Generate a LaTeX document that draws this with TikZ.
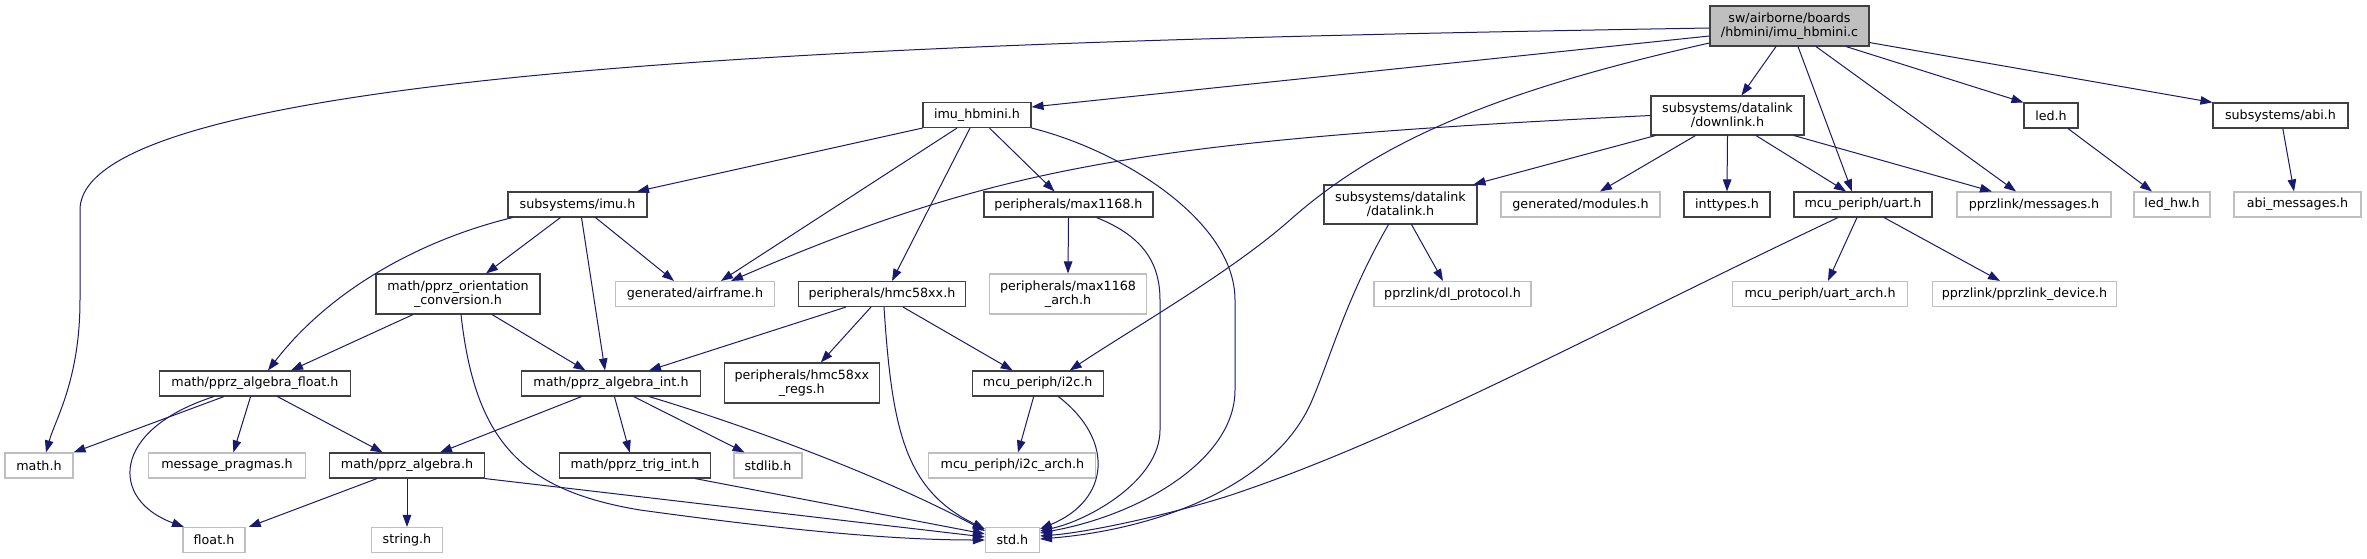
\documentclass[tikz,border=0pt]{standalone}
\usepackage{fontspec}
\setmainfont{DejaVu Sans}
\usetikzlibrary{arrows.meta,calc}
\definecolor{edgeblue}{HTML}{191970}
\definecolor{greyb}{HTML}{BFBFBF}
\definecolor{boxblack}{HTML}{404040}
\tikzset{
  nb/.style={draw=boxblack, line width=1.1pt, fill=white, inner sep=0pt, align=center,
    minimum height=25pt, font=\fontsize{12.7}{14.5}\selectfont},
  ng/.style={nb, draw=greyb},
  e/.style={draw=edgeblue, line width=1pt, -{Triangle[length=12pt,width=8.5pt]}},
}
\begin{document}
\begin{tikzpicture}[x=1pt,y=-1pt]
\useasboundingbox[fill=white] (0,0) rectangle (2367,559);
% row 0
\node[nb, fill=greyb, minimum width=159pt, minimum height=40pt] (root) at (1789.5,26) {sw/airborne/boards\\/hbmini/imu\_hbmini.c};
% row 1
\node[nb, minimum width=108pt] (imuh) at (977,115) {imu\_hbmini.h};
\node[nb, minimum width=153pt, minimum height=39pt] (downlink) at (1727.5,115.5) {subsystems/datalink\\/downlink.h};
\node[nb, minimum width=54pt] (led) at (2051,115.5) {led.h};
\node[nb, minimum width=135pt] (abi) at (2280.5,115.5) {subsystems/abi.h};
% row 2
\node[nb, minimum width=139pt] (imu) at (577.5,204.5) {subsystems/imu.h};
\node[nb, minimum width=169pt] (max) at (1068.5,204.5) {peripherals/max1168.h};
\node[nb, minimum width=153pt, minimum height=39pt] (datalink) at (1400.5,204.5) {subsystems/datalink\\/datalink.h};
\node[ng, minimum width=159pt] (modules) at (1580.5,204.5) {generated/modules.h};
\node[nb, minimum width=86pt] (inttypes) at (1727,204.5) {inttypes.h};
\node[nb, minimum width=138pt] (uart) at (1863,204.5) {mcu\_periph/uart.h};
\node[ng, minimum width=154pt] (messages) at (2034,204.5) {pprzlink/messages.h};
\node[ng, minimum width=76pt] (ledhw) at (2172,204.5) {led\_hw.h};
\node[ng, minimum width=127pt] (abimsg) at (2297.5,204.5) {abi\_messages.h};
% row 3
\node[nb, minimum width=164pt, minimum height=40pt] (orient) at (458,294) {math/pprz\_orientation\\\_conversion.h};
\node[ng, minimum width=159pt] (airframe) at (695,294) {generated/airframe.h};
\node[nb, minimum width=167pt] (hmc) at (882,294) {peripherals/hmc58xx.h};
\node[ng, minimum width=157pt, minimum height=40pt] (maxarch) at (1068,294) {peripherals/max1168\\\_arch.h};
\node[ng, minimum width=157pt] (dlproto) at (1452.5,294) {pprzlink/dl\_protocol.h};
\node[ng, minimum width=175pt] (uartarch) at (1820,294) {mcu\_periph/uart\_arch.h};
\node[ng, minimum width=184pt] (device) at (2024.5,294) {pprzlink/pprzlink\_device.h};
% row 4
\node[nb, minimum width=191pt] (afloat) at (255,383.5) {math/pprz\_algebra\_float.h};
\node[nb, minimum width=179pt] (aint) at (611,383.5) {math/pprz\_algebra\_int.h};
\node[nb, minimum width=155pt, minimum height=40pt] (regs) at (801.8,383) {peripherals/hmc58xx\\\_regs.h};
\node[nb, minimum width=131pt] (i2c) at (1037.7,383.5) {mcu\_periph/i2c.h};
% row 5
\node[ng, minimum width=68pt] (mathh) at (39,465.5) {math.h};
\node[ng, minimum width=157.5pt] (pragmas) at (227,465.5) {message\_pragmas.h};
\node[nb, minimum width=154.5pt] (alg) at (407,465.5) {math/pprz\_algebra.h};
\node[nb, minimum width=151pt] (trig) at (635,465.5) {math/pprz\_trig\_int.h};
\node[ng, minimum width=68pt] (stdlib) at (768,465.5) {stdlib.h};
\node[ng, minimum width=167pt] (i2carch) at (1012.4,465.5) {mcu\_periph/i2c\_arch.h};
% row 6
\node[ng, minimum width=62pt] (floath) at (214,540) {float.h};
\node[ng, minimum width=71pt] (stringh) at (407,540) {string.h};
\node[ng, minimum width=54pt] (stdh) at (1012.4,540) {std.h};

% edges from root
\draw[e] ([yshift=-2pt]root.west) .. controls (1000,40) and (80,60) .. (80,210) -- (80,300) .. controls (80,380) and (55,420) .. ([xshift=7pt]mathh.north);
\draw[e] ([yshift=-10pt]root.west) -- ([yshift=8pt]imuh.east);
\draw[e] ([yshift=-17pt]root.west) .. controls (1500,90) and (1380,140) .. (1290,220) .. controls (1230,273) and (1130,330) .. ([xshift=32pt]i2c.north);
\draw[e] ([xshift=-13.5pt]root.south) -- ([xshift=14pt]downlink.north);
\draw[e] ([xshift=8.5pt]root.south) -- ([xshift=-11pt]uart.north);
\draw[e] ([xshift=26.5pt]root.south) -- ([xshift=-18pt]messages.north);
\draw[e] ([xshift=56.5pt]root.south) -- (led.north west);
\draw[e] ([yshift=4pt]root.south east) -- (abi.north west);
% imu_hbmini.h
\draw[e] (imuh.south west) -- ([xshift=59.5pt]imu.north);
\draw[e] ([xshift=-20pt]imuh.south) -- ([xshift=26pt]airframe.north);
\draw[e] ([xshift=-7pt]imuh.south) -- ([xshift=10pt]hmc.north);
\draw[e] ([xshift=12.5pt]imuh.south) -- ([xshift=-14pt]max.north);
\draw[e] (imuh.south east) .. controls (1120,150) and (1235,220) .. (1235,300) -- (1235,390) .. controls (1235,460) and (1140,515) .. ([yshift=7pt]stdh.east);
% downlink
\draw[e] (downlink.west) .. controls (1150,140) and (1000,165) .. ([xshift=36pt]airframe.north);
\draw[e] ([xshift=-72pt]downlink.south) -- ([xshift=73pt]datalink.north);
\draw[e] ([xshift=-32pt]downlink.south) -- ([xshift=19.5pt]modules.north);
\draw[e] (downlink.south) -- (inttypes.north);
\draw[e] ([xshift=28.5pt]downlink.south) -- ([xshift=-17pt]uart.north);
\draw[e] ([xshift=66.5pt]downlink.south) -- ([xshift=-42pt]messages.north);
% subsystems/imu.h
\draw[e] ([xshift=-65pt]imu.south) .. controls (420,240) and (330,290) .. ([xshift=13pt]afloat.north);
\draw[e] ([xshift=-17pt]imu.south) -- ([xshift=28pt]orient.north);
\draw[e] ([xshift=4pt]imu.south) -- ([xshift=-6pt]aint.north);
\draw[e] ([xshift=18pt]imu.south) -- ([xshift=-21pt]airframe.north);
% orientation conversion
\draw[e] ([xshift=-45pt]orient.south) -- ([xshift=36pt]afloat.north);
\draw[e] ([xshift=34pt]orient.south) -- ([xshift=-25.5pt]aint.north);
\draw[e] ([xshift=3pt]orient.south) .. controls (475,440) and (520,490) .. (640,510) .. controls (800,532) and (900,540) .. (stdh.west);
% max1168
\draw[e] (max.south) -- (maxarch.north);
\draw[e] ([xshift=28pt]max.south) .. controls (1140,235) and (1160,260) .. (1160,300) -- (1160,430) .. controls (1160,480) and (1090,520) .. ([yshift=9pt]stdh.east);
% datalink
\draw[e] ([xshift=11pt]datalink.south) -- ([xshift=-9.5pt]dlproto.north);
\draw[e] ([xshift=-12pt]datalink.south) .. controls (1345,300) and (1330,360) .. (1310,405) .. controls (1270,490) and (1150,530) .. ([yshift=1pt]stdh.east);
% uart
\draw[e] ([xshift=-25pt]uart.south) .. controls (1600,330) and (1400,440) .. (1225,497) .. controls (1150,520) and (1080,533) .. ([yshift=4pt]stdh.east);
\draw[e] ([xshift=-6pt]uart.south) -- ([xshift=8pt]uartarch.north);
\draw[e] ([xshift=21pt]uart.south) -- ([xshift=-24.5pt]device.north);
% led, abi
\draw[e] ([xshift=17pt]led.south) -- ([xshift=-20pt]ledhw.north);
\draw[e] ([xshift=2.3pt]abi.south) -- ([xshift=-3.5pt]abimsg.north);
% hmc58xx
\draw[e] ([xshift=-36pt]hmc.south) -- ([xshift=38pt]aint.north);
\draw[e] ([xshift=-11pt]hmc.south) -- ([xshift=19pt]regs.north);
\draw[e] ([xshift=2pt]hmc.south) .. controls (892,430) and (905,490) .. ([yshift=11pt]stdh.west);
\draw[e] ([xshift=21pt]hmc.south) -- ([xshift=-25pt]i2c.north);
% algebra float
\draw[e] ([xshift=-31pt]afloat.south) -- (mathh.north east);
\draw[e] ([xshift=-41pt]afloat.south) .. controls (110,430) and (110,500) .. ([xshift=-30pt]floath.north);
\draw[e] ([xshift=-4.4pt]afloat.south) -- ([xshift=6.4pt]pragmas.north);
\draw[e] ([xshift=22.4pt]afloat.south) -- ([xshift=-24.3pt]alg.north);
% algebra int
\draw[e] ([xshift=-29.4pt]aint.south) -- ([xshift=33pt]alg.north);
\draw[e] ([xshift=3.4pt]aint.south) -- ([xshift=-5.3pt]trig.north);
\draw[e] ([xshift=22.6pt]aint.south) -- ([xshift=-23.5pt]stdlib.north);
\draw[e] ([xshift=38pt]aint.south) .. controls (760,430) and (890,480) .. ([yshift=9pt]stdh.west);
% i2c
\draw[e] ([xshift=-4pt]i2c.south) -- ([xshift=5.6pt]i2carch.north);
\draw[e] ([xshift=20.6pt]i2c.south) .. controls (1115,440) and (1110,500) .. ([yshift=11pt]stdh.east);
% algebra
\draw[e] ([xshift=-30pt]alg.south) -- ([xshift=34.7pt]floath.north);
\draw[e] (alg.south) -- (stringh.north);
\draw[e] (alg.south east) -- ([yshift=3pt]stdh.west);
% trig
\draw[e] ([xshift=60pt]trig.south) -- ([yshift=6pt]stdh.west);
\end{tikzpicture}
\end{document}
